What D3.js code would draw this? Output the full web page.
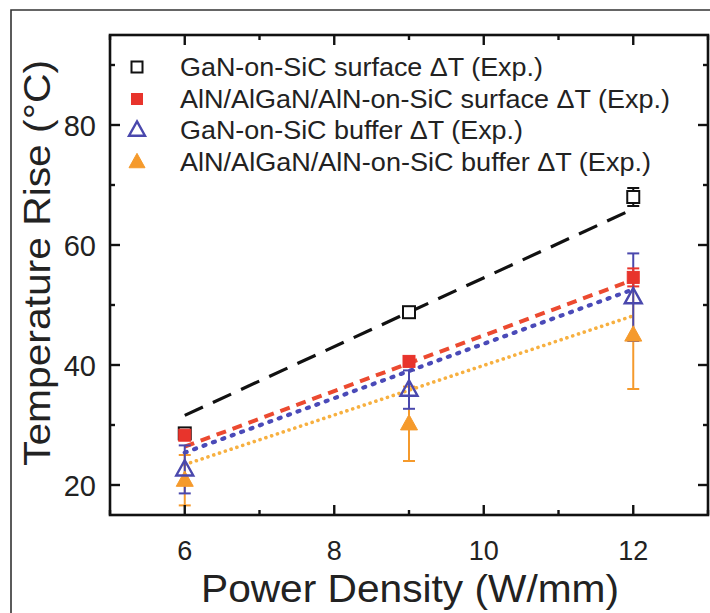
<!DOCTYPE html>
<html><head><meta charset="utf-8">
<script src="https://cdn.jsdelivr.net/npm/d3@7"></script>
<style>body{margin:0;background:#fff}svg{display:block}</style>
</head><body>
<script>
const xVals = [6, 9, 12];
const ganSurf = [28.6, 48.8, 68.0];
const ganSurfErr = [0.8, 0.8, 1.5];
const alnSurf = [28.3, 40.6, 54.6];
const alnSurfErr = [0.8, 0.8, 1.5];
const ganBuf = [22.6, 35.9, 51.3];
const ganBufErr = [4.0, 3.2, 7.3];
const alnBuf = [20.8, 30.2, 45.0];
const alnBufErr = [4.2, 6.2, 9.0];
const fitX = [6, 12];
const ganSurfFit = [31.6, 66.0];
const alnSurfFit = [26.4, 54.2];
const ganBufFit = [25.4, 52.6];
const alnBufFit = [23.4, 48.2];
const xTicks = [6, 8, 10, 12];
const xMinor = [5, 7, 9, 11, 13];
const yTicks = [20, 40, 60, 80];
const yMinor = [30, 50, 70, 90];
const legendLabels = [
  "GaN-on-SiC surface \u0394T (Exp.)",
  "AlN/AlGaN/AlN-on-SiC surface \u0394T (Exp.)",
  "GaN-on-SiC buffer \u0394T (Exp.)",
  "AlN/AlGaN/AlN-on-SiC buffer \u0394T (Exp.)"
];

const W = 710, H = 613;
const L = 110, R = 708, T = 35, B = 515;
const FONT = "'Liberation Sans', Arial, Helvetica, sans-serif";
const svg = d3.select("body").append("svg").attr("width", W).attr("height", H)
  .style("font-family", FONT);

svg.append("path").attr("d", `M11,${H} L11,10 L${W},10`).attr("fill","none")
  .attr("stroke","#333").attr("stroke-width",1.6);

const x = d3.scaleLinear().domain([5, 13]).range([L, R]);
const y = d3.scaleLinear().domain([15, 95]).range([B, T]);

const colors = {black:"#111", red:"#e8342c", blue:"#4a48ad", orange:"#f59a2c"};
const series = [
  {vals: ganSurf, err: ganSurfErr, fit: ganSurfFit, color: colors.black, marker:"square", fill:false, dash:"20,11", lw:3.2, lineColor:"#111", cap:"butt"},
  {vals: alnSurf, err: alnSurfErr, fit: alnSurfFit, color: colors.red, marker:"square", fill:true, dash:"10,7", lw:4, lineColor:"#ec4a30", cap:"butt"},
  {vals: ganBuf, err: ganBufErr, fit: ganBufFit, color: colors.blue, marker:"triangle", fill:false, dash:"2,8", lw:4.2, lineColor:"#4a4ab8", cap:"round"},
  {vals: alnBuf, err: alnBufErr, fit: alnBufFit, color: colors.orange, marker:"triangle", fill:true, dash:"0.1,6", lw:3.6, lineColor:"#f7b040", cap:"round"}
];

const line = d3.line().x(d => x(d[0])).y(d => y(d[1]));
[3,2,1,0].forEach(i => {
  const s = series[i];
  svg.append("path").datum(fitX.map((xv,j)=>[xv, s.fit[j]]))
    .attr("d", line).attr("fill","none").attr("stroke", s.lineColor)
    .attr("stroke-width", s.lw).attr("stroke-dasharray", s.dash)
    .attr("stroke-linecap", s.cap);
});

function drawMarker(g, type, cx, cy, color, fill, size) {
  if (type === "square") {
    g.append("rect").attr("x", cx-size/2).attr("y", cy-size/2)
      .attr("width", size).attr("height", size)
      .attr("fill", fill ? color : "#fff").attr("stroke", color)
      .attr("stroke-width", fill ? 1 : 2);
  } else {
    const h = size*0.9, w = size;
    g.append("path").attr("d", `M${cx},${cy-h*0.6} L${cx+w/2},${cy+h*0.4} L${cx-w/2},${cy+h*0.4} Z`)
      .attr("fill", fill ? color : "none").attr("stroke", color)
      .attr("stroke-width", fill ? 1 : 2.4).attr("stroke-linejoin","miter");
  }
}

const drawOrder = [3,2,0,1];
drawOrder.forEach(i => {
  const s = series[i];
  const g = svg.append("g");
  xVals.forEach((xv,j) => {
    const cx = x(xv), lo = y(s.vals[j]-s.err[j]), hi = y(s.vals[j]+s.err[j]);
    g.append("line").attr("x1",cx).attr("x2",cx).attr("y1",lo).attr("y2",hi)
      .attr("stroke", s.color).attr("stroke-width",2);
    [lo,hi].forEach(yy => g.append("line").attr("x1",cx-6).attr("x2",cx+6)
      .attr("y1",yy).attr("y2",yy).attr("stroke", s.color).attr("stroke-width",2));
  });
});
drawOrder.forEach(i => {
  const s = series[i];
  const g = svg.append("g");
  xVals.forEach((xv,j) => {
    drawMarker(g, s.marker, x(xv), y(s.vals[j]), s.color, s.fill, s.marker==="square"?12:17);
  });
});

svg.append("rect").attr("x",L).attr("y",T).attr("width",R-L).attr("height",B-T)
  .attr("fill","none").attr("stroke","#111").attr("stroke-width",2.6);

const axG = svg.append("g").attr("stroke","#111").attr("stroke-width",2.4);
xTicks.forEach(t => {
  axG.append("line").attr("x1",x(t)).attr("x2",x(t)).attr("y1",B).attr("y2",B-10);
  axG.append("line").attr("x1",x(t)).attr("x2",x(t)).attr("y1",T).attr("y2",T+10);
});
xMinor.forEach(t => {
  axG.append("line").attr("x1",x(t)).attr("x2",x(t)).attr("y1",B).attr("y2",B-5);
  axG.append("line").attr("x1",x(t)).attr("x2",x(t)).attr("y1",T).attr("y2",T+5);
});
yTicks.forEach(t => {
  axG.append("line").attr("x1",L).attr("x2",L+10).attr("y1",y(t)).attr("y2",y(t));
  axG.append("line").attr("x1",R).attr("x2",R-10).attr("y1",y(t)).attr("y2",y(t));
});
yMinor.forEach(t => {
  axG.append("line").attr("x1",L).attr("x2",L+5).attr("y1",y(t)).attr("y2",y(t));
  axG.append("line").attr("x1",R).attr("x2",R-5).attr("y1",y(t)).attr("y2",y(t));
});

svg.append("g").selectAll("text").data(xTicks).join("text")
  .attr("x", d => x(d)).attr("y", 560).attr("text-anchor","middle")
  .attr("font-size",27).attr("fill","#222").text(d => d);
svg.append("g").selectAll("text").data(yTicks).join("text")
  .attr("x", 96).attr("y", d => y(d)+11).attr("text-anchor","end")
  .attr("font-size",29).attr("fill","#222").text(d => d);

svg.append("text").attr("x", 410).attr("y", 602).attr("text-anchor","middle")
  .attr("font-size",38).attr("fill","#222")
  .attr("textLength",418).attr("lengthAdjust","spacingAndGlyphs")
  .text("Power Density (W/mm)");
svg.append("text").attr("transform","translate(50,263) rotate(-90)")
  .attr("text-anchor","middle").attr("font-size",36).attr("fill","#222")
  .attr("textLength",406).attr("lengthAdjust","spacingAndGlyphs")
  .text("Temperature Rise (\u00B0C)");

const legY = [67, 99, 130, 162];
const legLen = [363, 490, 343, 471];
series.forEach((s,i) => {
  const g = svg.append("g");
  drawMarker(g, s.marker, 137, legY[i], s.color, s.fill, s.marker==="square"?11:16);
  g.append("text").attr("x",180).attr("y",legY[i]+9).attr("font-size",26)
    .attr("textLength",legLen[i]).attr("lengthAdjust","spacingAndGlyphs")
    .attr("fill","#222").text(legendLabels[i]);
});
</script>
</body></html>
